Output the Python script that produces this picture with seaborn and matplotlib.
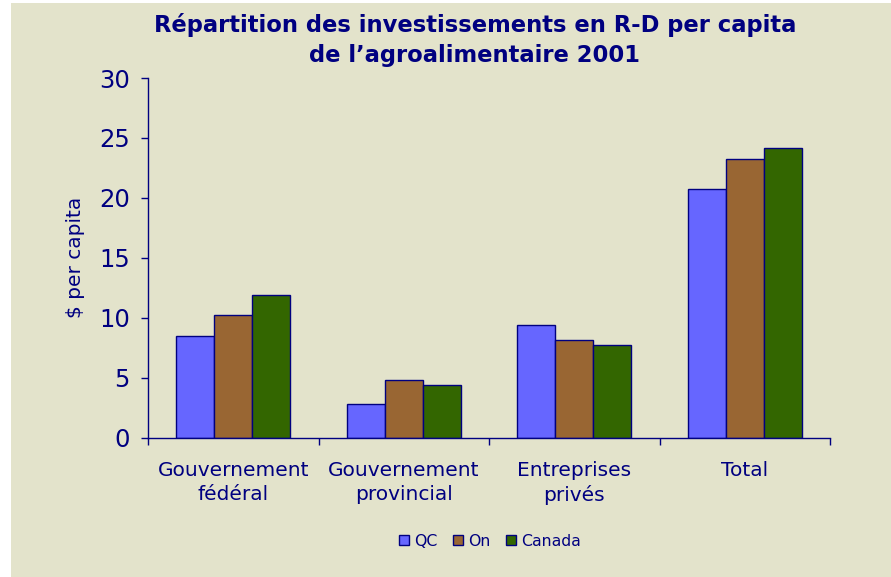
import matplotlib
matplotlib.use("Agg")
import matplotlib.pyplot as plt
import seaborn as sns
import pandas as pd
from matplotlib.patches import Rectangle
from matplotlib.ticker import FixedLocator

categories = ["Gouvernement\nfédéral", "Gouvernement\nprovincial", "Entreprises\nprivés", "Total"]
series = ["QC", "On", "Canada"]
qc = [8.5, 2.85, 9.4, 20.75]
on = [10.25, 4.85, 8.15, 23.25]
canada = [11.9, 4.4, 7.7, 24.15]
yticks = [0, 5, 10, 15, 20, 25, 30]
title = "Répartition des investissements en R-D per capita\nde l’agroalimentaire 2001"
ylabel = r"\$ per capita"

colors = ["#6666FF", "#996633", "#336600"]
navy = "#000080"
bg = "#E3E3CB"

rows = []
for s, vals in zip(series, [qc, on, canada]):
    for c, v in zip(categories, vals):
        rows.append({"cat": c, "serie": s, "val": v})
df = pd.DataFrame(rows)

sns.set_theme(style="white")
plt.rcParams["font.family"] = ["DejaVu Sans"]

fig = plt.figure(figsize=(8.91, 5.77), dpi=100)
fig.patch.set_facecolor("white")
fig.add_artist(Rectangle((11 / 891, 0), 1, 1 - 3 / 577, transform=fig.transFigure,
                         facecolor=bg, edgecolor="none", zorder=0))
ax = fig.add_axes([148 / 891, 1 - 437.7 / 577, (830 - 148) / 891, (437.7 - 78) / 577])
ax.set_facecolor(bg)

sns.barplot(data=df, x="cat", y="val", hue="serie", order=categories, hue_order=series,
            palette=colors, width=0.667, edgecolor=navy, linewidth=1.0, ax=ax,
            legend=False, saturation=1)

ax.set_xlim(-0.5, 3.5)
ax.set_ylim(0, 30)
ax.set_yticks(yticks)
ax.set_yticklabels([str(t) for t in yticks], fontsize=17.5, color=navy)
ax.set_xlabel("")
ax.set_ylabel(ylabel, fontsize=14.5, color=navy, labelpad=10)
ax.set_xticks(range(len(categories)))
ax.set_xticklabels(categories, fontsize=14.5, color=navy, linespacing=1.3)
ax.xaxis.set_minor_locator(FixedLocator([-0.5, 0.5, 1.5, 2.5, 3.5]))
ax.tick_params(axis="x", which="major", length=0, pad=17)
ax.tick_params(axis="x", which="minor", length=5, width=1, color=navy, direction="out", bottom=True)
ax.tick_params(axis="y", which="major", length=5, width=1, color=navy, direction="out", left=True, pad=8)
for side in ["top", "right"]:
    ax.spines[side].set_visible(False)
for side in ["left", "bottom"]:
    ax.spines[side].set_color(navy)
    ax.spines[side].set_linewidth(1)

fig.text(0.533, 1 - 40 / 577, title, ha="center", va="center", fontsize=16.3,
         fontweight="bold", color=navy, linespacing=1.35)

handles = [Rectangle((0, 0), 1, 1, facecolor=c, edgecolor=navy, linewidth=1) for c in colors]
fig.legend(handles, series, loc="center", bbox_to_anchor=(490 / 891, 1 - 541 / 577), ncol=3,
           frameon=False, fontsize=11.3, handlelength=0.65, handleheight=0.65,
           handletextpad=0.3, columnspacing=1.0, labelcolor=navy)

fig.savefig("out.png", dpi=100, facecolor=fig.get_facecolor())
